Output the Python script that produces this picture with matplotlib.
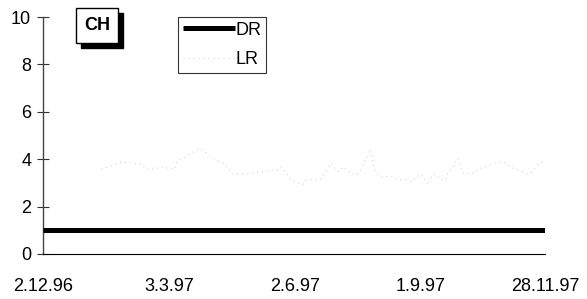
import matplotlib
matplotlib.use("Agg")
import matplotlib.pyplot as plt
from matplotlib.patches import Rectangle

plt.rcParams['font.family'] = ['Liberation Sans', 'DejaVu Sans']

# business-day index axis: 0 = 2.12.96, 259 = 28.11.97
tick_pos = [0, 65, 130, 195, 259]
tick_labels = ["2.12.96", "3.3.97", "2.6.97", "1.9.97", "28.11.97"]

dr_days = [0, 259]
dr_values = [1.0, 1.0]

lr_days = [30, 41, 51, 53, 58, 60, 68, 69, 81, 88, 91, 93, 98, 103, 122, 123, 124,
           128, 134, 136, 143, 149, 151, 153, 155, 159, 162, 164, 169, 171, 174, 180,
           182, 188, 189, 190, 195, 199, 201, 204, 205, 208, 209, 211, 214, 215, 216,
           217, 221, 224, 228, 233, 236, 239, 241, 244, 247, 250, 252, 257, 259]
lr_values = [3.57, 3.89, 3.78, 3.57, 3.57, 3.68, 3.57, 3.89, 4.46, 4.04, 3.89, 3.83,
             3.36, 3.36, 3.57, 3.68, 3.57, 3.14, 2.92, 3.14, 3.14, 3.83, 3.57, 3.47,
             3.68, 3.38, 3.33, 3.57, 4.43, 3.57, 3.26, 3.26, 3.14, 3.14, 3.10, 3.05,
             3.38, 2.92, 3.38, 3.26, 3.14, 3.14, 3.47, 3.57, 4.04, 3.83, 3.57, 3.38,
             3.38, 3.57, 3.68, 3.83, 3.89, 3.83, 3.68, 3.57, 3.50, 3.38, 3.47, 3.89, 3.83]

W, H = 587, 299
fig = plt.figure(figsize=(W / 100, H / 100), dpi=100)
ax = fig.add_axes([43 / W, 1 - 254 / H, (545 - 43) / W, (254 - 17) / H])

ax.plot(dr_days, dr_values, color="black", lw=3.6, solid_capstyle="butt", label="DR", zorder=3)
ax.plot(lr_days, lr_values, color="#d4d4d4", lw=0.8, linestyle=(0, (1, 3.5)), label="LR", zorder=2)

ax.set_xlim(0, 259)
ax.set_ylim(0, 10)
ax.set_yticks([0, 2, 4, 6, 8, 10])
ax.set_xticks(tick_pos)
ax.set_xticklabels(tick_labels)
ax.tick_params(axis="y", direction="inout", length=9, width=0.8, color="#333333",
               labelsize=13, pad=4)
ax.tick_params(axis="x", length=0, labelsize=13, pad=17)

for s in ["top", "right"]:
    ax.spines[s].set_visible(False)
ax.spines["left"].set_color("#444444")
ax.spines["left"].set_linewidth(1.0)
ax.spines["bottom"].set_color("black")
ax.spines["bottom"].set_linewidth(0.8)

leg = ax.legend(loc="upper left", bbox_to_anchor=(178 / W, 1 - 17 / H),
                bbox_transform=fig.transFigure, frameon=True, fancybox=False,
                edgecolor="black", fontsize=13, handlelength=2.9, handletextpad=0.05,
                labelspacing=0.7, borderpad=0.25, borderaxespad=0)
leg.get_frame().set_linewidth(0.8)

# CH box with shadow
def fig_rect(x0, y0, x1, y1, **kw):
    r = Rectangle((x0 / W, 1 - y1 / H), (x1 - x0) / W, (y1 - y0) / H,
                  transform=fig.transFigure, **kw)
    fig.patches.append(r)

fig_rect(81, 13, 123, 48, facecolor="black", edgecolor="black")
fig_rect(76, 8, 118, 43, facecolor="white", edgecolor="black", lw=1.0)
fig.text(97 / W, 1 - 25.5 / H, "CH", ha="center", va="center", fontsize=13,
         fontweight="bold")

fig.savefig("out.png", dpi=100)
